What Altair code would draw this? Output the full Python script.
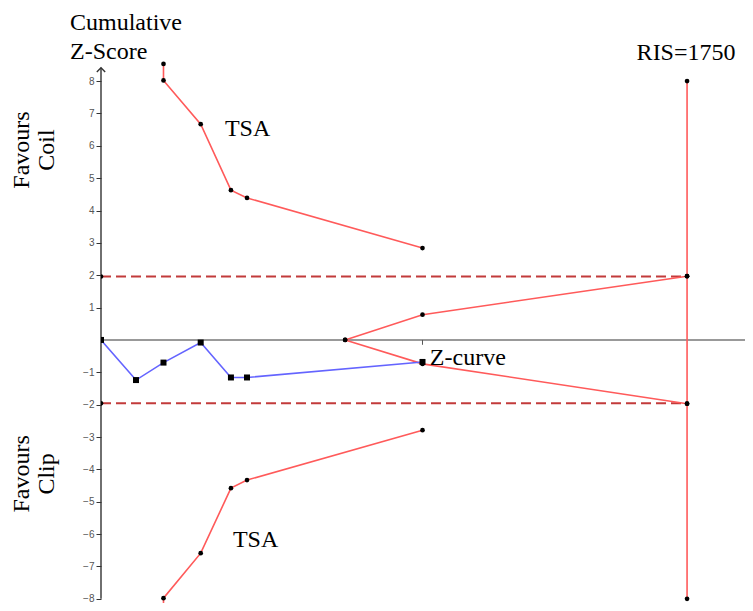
import altair as alt
import pandas as pd

# ---------------- data ----------------
tsa_x = [186.6, 186.6, 297.7, 388, 436, 960]
tsa_upper = [8.53, 8.02, 6.67, 4.63, 4.39, 2.84]
tsa_lower = [-8.5, -7.98, -6.59, -4.58, -4.33, -2.79]

fut_x = [729, 960, 1750]
fut_upper = [0, 0.78, 1.97]
fut_lower = [0, -0.74, -1.97]

ris_value = 1750
ris_y = [-8, -1.97, 1.97, 8]

z_x = [0, 104.5, 186.6, 297.7, 388, 436, 960]
z_y = [0, -1.24, -0.70, -0.08, -1.16, -1.16, -0.68]

alpha_z = 1.96
current_n = 960
y_ticks = [8, 7, 6, 5, 4, 3, 2, 1, -1, -2, -3, -4, -5, -6, -7, -8]

X_MAX = 1923
Y_DOM = [-8.13, 9.27]

RED = "#ff5a5a"
DARKRED = "#c23b3b"
BLUE = "#6464ff"
SERIF = "Liberation Serif"

# ---------------- tables ----------------
rows = []
def add(series, xs, ys, color):
    for i, (a, b) in enumerate(zip(xs, ys)):
        rows.append({"series": series, "order": i, "x": a, "y": b, "color": color})

add("tsa_up", tsa_x, tsa_upper, RED)
add("tsa_lo", tsa_x, tsa_lower, RED)
add("fut_up", fut_x, fut_upper, RED)
add("fut_lo", fut_x, fut_lower, RED)
add("ris", [ris_value] * len(ris_y), ris_y, RED)
add("z", z_x, z_y, BLUE)
lines_df = pd.DataFrame(rows)

circ_df = lines_df[lines_df.series != "z"][["x", "y"]].copy()
circ_df = pd.concat([circ_df, pd.DataFrame({"x": [0, 0], "y": [alpha_z, -alpha_z]})], ignore_index=True)
sq_df = lines_df[lines_df.series == "z"][["x", "y"]].copy()

dash_df = pd.DataFrame({"x": [0, 0], "x2": [ris_value, ris_value], "y": [alpha_z, -alpha_z]})
xaxis_df = pd.DataFrame({"x": [0], "x2": [X_MAX], "y": [0]})
yaxis_df = pd.DataFrame({"x": [0], "y": [-8], "y2": [8.41]})
arrow_df = pd.DataFrame({"x": [0], "y": [8.41]})
tick_df = pd.DataFrame({"x": [current_n], "y": [0], "y2": [-0.15]})

text_left_df = pd.DataFrame({
    "x": [-92.6, -92.6, 370, 394, 982],
    "y": [9.58, 8.69, 6.31, -6.40, -0.77],
    "t": ["Cumulative", "Z-Score", "TSA", "TSA", "Z-curve"],
})
text_center_df = pd.DataFrame({"x": [1747], "y": [8.66], "t": ["RIS=1750"]})
rot_df = pd.DataFrame({
    "x": [-214, -140, -214, -140],
    "y": [5.87, 5.87, -4.14, -4.14],
    "t": ["Favours", "Coil", "Favours", "Clip"],
})

# ---------------- encodings ----------------
X = alt.X("x:Q", scale=alt.Scale(domain=[0, X_MAX], nice=False, zero=False), axis=None)
Y = alt.Y("y:Q", scale=alt.Scale(domain=Y_DOM, nice=False, zero=False),
          axis=alt.Axis(values=y_ticks, title=None, domain=False, grid=False,
                        tickSize=5, tickColor="#333", tickWidth=1,
                        labelFont="Liberation Sans", labelFontSize=10,
                        labelColor="#555", labelPadding=2))

dash = alt.Chart(dash_df).mark_rule(color=DARKRED, strokeWidth=2, strokeDash=[10, 5]).encode(
    x=X, x2="x2:Q", y=Y)
xaxis = alt.Chart(xaxis_df).mark_rule(color="#777", strokeWidth=1.6).encode(x=X, x2="x2:Q", y=Y)
yaxis = alt.Chart(yaxis_df).mark_rule(color="#333", strokeWidth=1.4).encode(x=X, y=Y, y2="y2:Q")
arrow = alt.Chart(arrow_df).mark_point(shape="M-1,1L0,0L1,1", filled=False, size=70,
                                       color="#333", strokeWidth=1.4, opacity=1).encode(x=X, y=Y)
tick = alt.Chart(tick_df).mark_rule(color="#555", strokeWidth=1).encode(x=X, y=Y, y2="y2:Q")

lines = alt.Chart(lines_df).mark_line(strokeWidth=1.6, clip=True).encode(
    x=X, y=Y, detail="series:N", order="order:Q", color=alt.Color("color:N", scale=None))

circles = alt.Chart(circ_df).mark_circle(size=22, color="black", opacity=1, clip=True).encode(x=X, y=Y)
squares = alt.Chart(sq_df).mark_square(size=36, color="black", opacity=1, clip=True).encode(x=X, y=Y)

texts_left = alt.Chart(text_left_df).mark_text(
    font=SERIF, fontSize=24, color="black", baseline="alphabetic", align="left").encode(
    x=X, y=Y, text="t:N")
texts_center = alt.Chart(text_center_df).mark_text(
    font=SERIF, fontSize=24, color="black", baseline="alphabetic", align="center").encode(
    x=X, y=Y, text="t:N")
rot = alt.Chart(rot_df).mark_text(
    font=SERIF, fontSize=24, color="black", baseline="alphabetic", align="center", angle=270).encode(
    x=X, y=Y, text="t:N")

chart = alt.layer(dash, xaxis, yaxis, arrow, tick, lines, circles, squares,
                  texts_left, texts_center, rot).properties(
    width=644, height=563,
    background="white",
    autosize=alt.AutoSizeParams(type="none"),
    padding={"left": 93, "top": 32, "right": 0, "bottom": 0},
).configure_view(stroke=None)

chart.save("out.html", embed_options={"renderer": "svg", "actions": False})
